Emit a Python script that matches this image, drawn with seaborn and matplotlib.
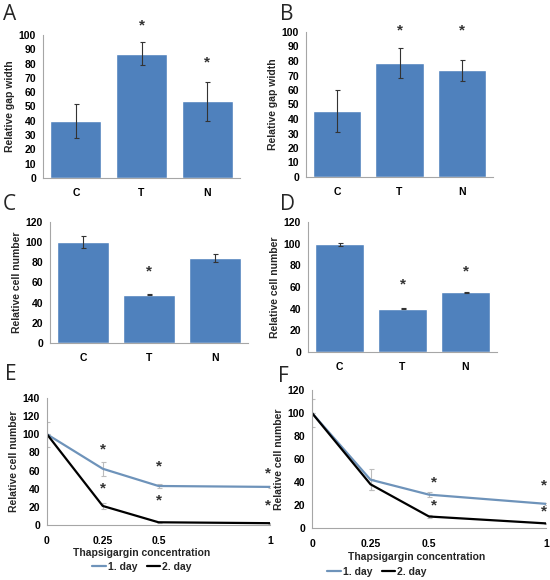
import matplotlib
matplotlib.use("Agg")
import matplotlib.pyplot as plt
import seaborn as sns
import pandas as pd

groups = ["C", "T", "N"]

gap_a = [40, 87, 53.5]
gap_a_err = [12, 8, 13.5]
gap_b = [45.5, 78.5, 73.5]
gap_b_err = [14.5, 10.5, 7]

cells_c = [100, 48, 84.5]
cells_c_err = [6, 0.8, 4]
cells_d = [99.5, 40, 55]
cells_d_err = [1.2, 0.5, 0.5]

conc = [0, 0.25, 0.5, 1]
conc_labels = ["0", "0.25", "0.5", "1"]
e_day1 = [100, 62, 43, 42]
e_day1_err = [14, 8, 2, 1.5]
e_day2 = [100, 21, 3, 2]
e_day2_err = [0, 3, 0.5, 0.5]
f_day1 = [100, 42, 29, 21]
f_day1_err = [12, 9, 2, 1]
f_day2 = [100, 38, 10, 4]
f_day2_err = [0, 5, 1, 0.5]

# significance stars: (x, y) in data units
stars_a = [(1, 107), (2, 81)]
stars_b = [(1, 101), (2, 101)]
stars_c = [(1, 71)]
stars_d = [(1, 62), (2, 74)]
stars_e = [(0.25, 83), (0.25, 40), (0.5, 65), (0.5, 27), (0.99, 57), (0.99, 22)]
stars_f = [(0.52, 40), (0.52, 20), (0.99, 37), (0.99, 14)]

BAR = "#4F81BD"
DAY1 = "#6E93BA"
AXIS = "#A6A6A6"

sns.set_style("white")
plt.rcParams["font.family"] = ["Liberation Sans", "DejaVu Sans"]
plt.rcParams["font.weight"] = "bold"

W, H = 550, 580
fig = plt.figure(figsize=(5.5, 5.8), dpi=100)


def box(left, right, top, bottom):
    return [left / W, (H - bottom) / H, (right - left) / W, (bottom - top) / H]


def style_axes(ax):
    sns.despine(ax=ax)
    for s in ["left", "bottom"]:
        ax.spines[s].set_color(AXIS)
        ax.spines[s].set_linewidth(0.8)
    ax.tick_params(axis="both", labelsize=7.5, colors=AXIS, labelcolor="black",
                   length=3, width=0.8, direction="out", pad=2)
    for lab in ax.get_xticklabels() + ax.get_yticklabels():
        lab.set_fontweight("bold")


def panel_letter(letter, lpos):
    fig.text(lpos[0] / W, 1 - lpos[1] / H, letter, fontsize=15,
             family=["Open Sans", "DejaVu Sans"], fontweight="normal",
             ha="left", va="center")


def bar_panel(rect, vals, errs, ymax, ystep, ylabel, stars, letter, lpos):
    ax = fig.add_axes(box(*rect))
    df = pd.DataFrame({"group": groups, "value": vals})
    sns.barplot(data=df, x="group", y="value", color=BAR, width=0.78,
                saturation=1, ax=ax)
    ax.errorbar(range(3), vals, yerr=errs, fmt="none", ecolor="#333333",
                elinewidth=0.8, capsize=1.8, capthick=0.8)
    ax.set_ylim(0, ymax)
    ax.set_xlim(-0.5, 2.5)
    ax.set_yticks(range(0, ymax + 1, ystep))
    ax.set_xticks([-0.5, 0.5, 1.5, 2.5], minor=True)
    style_axes(ax)
    ax.tick_params(axis="x", which="major", length=0, pad=7)
    ax.tick_params(axis="x", which="minor", length=3, color=AXIS)
    ax.set_xlabel("")
    ax.set_ylabel(ylabel, fontsize=7.5, fontweight="bold", labelpad=3)
    for x, y in stars:
        ax.text(x, y, "*", ha="center", va="center", fontsize=11,
                color="#333333", clip_on=False)
    panel_letter(letter, lpos)
    return ax


def line_panel(rect, d1, d1e, d2, d2e, ymax, stars, letter, lpos, leg_y, lab_y, legx, xlabx):
    ax = fig.add_axes(box(*rect))
    ax.errorbar(conc, d1, yerr=d1e, fmt="none", ecolor="#BDBDBD",
                elinewidth=0.8, capsize=1.8, capthick=0.8)
    ax.errorbar(conc, d2, yerr=d2e, fmt="none", ecolor="#BDBDBD",
                elinewidth=0.8, capsize=1.8, capthick=0.8)
    sns.lineplot(x=conc, y=d1, color=DAY1, linewidth=1.6, label="1. day", ax=ax)
    sns.lineplot(x=conc, y=d2, color="black", linewidth=1.6, label="2. day", ax=ax)
    ax.set_xlim(0, 1)
    ax.set_ylim(0, ymax)
    ax.set_yticks(range(0, ymax + 1, 20))
    ax.set_xticks([0, 0.25, 0.5, 0.75, 1])
    ax.set_xticklabels(conc_labels[:3] + [""] + conc_labels[3:])
    style_axes(ax)
    ax.tick_params(axis="x", pad=5)
    ax.set_ylabel("Relative cell number", fontsize=7.5, fontweight="bold", labelpad=3)
    ax.set_xlabel("Thapsigargin concentration", fontsize=7.5, fontweight="bold",
                  va="center")
    bottom = rect[3]
    height = rect[3] - rect[2]
    ax.xaxis.set_label_coords(xlabx, (bottom - lab_y) / height)
    for x, y in stars:
        ax.text(x, y, "*", ha="center", va="center", fontsize=11,
                color="#333333", clip_on=False)
    leg = ax.legend(loc="center", bbox_to_anchor=(legx / W, 1 - leg_y / H),
                    bbox_transform=fig.transFigure, ncol=2, frameon=False,
                    fontsize=7.5, handlelength=1.3, handletextpad=0.2,
                    columnspacing=0.9, borderaxespad=0, borderpad=0)
    for t in leg.get_texts():
        t.set_fontweight("bold")
    panel_letter(letter, lpos)
    return ax


bar_panel((43, 240, 35, 178), gap_a, gap_a_err, 100, 10, "Relative gap width",
          stars_a, "A", (3, 14))
bar_panel((306, 493, 32, 177), gap_b, gap_b_err, 100, 10, "Relative gap width",
          stars_b, "B", (280, 14))
bar_panel((50, 248, 222, 343), cells_c, cells_c_err, 120, 20, "Relative cell number",
          stars_c, "C", (3, 205))
bar_panel((308, 497, 222, 352), cells_d, cells_d_err, 120, 20, "Relative cell number",
          stars_d, "D", (280, 205))
line_panel((47, 270, 398, 525), e_day1, e_day1_err, e_day2, e_day2_err, 140,
           stars_e, "E", (5, 375), 567, 553, 142, (142 - 47) / 223)
line_panel((312, 546, 390, 528), f_day1, f_day1_err, f_day2, f_day2_err, 120,
           stars_f, "F", (278, 377), 572, 557, 377, (417 - 312) / 234)

fig.savefig("out.png", dpi=100)
